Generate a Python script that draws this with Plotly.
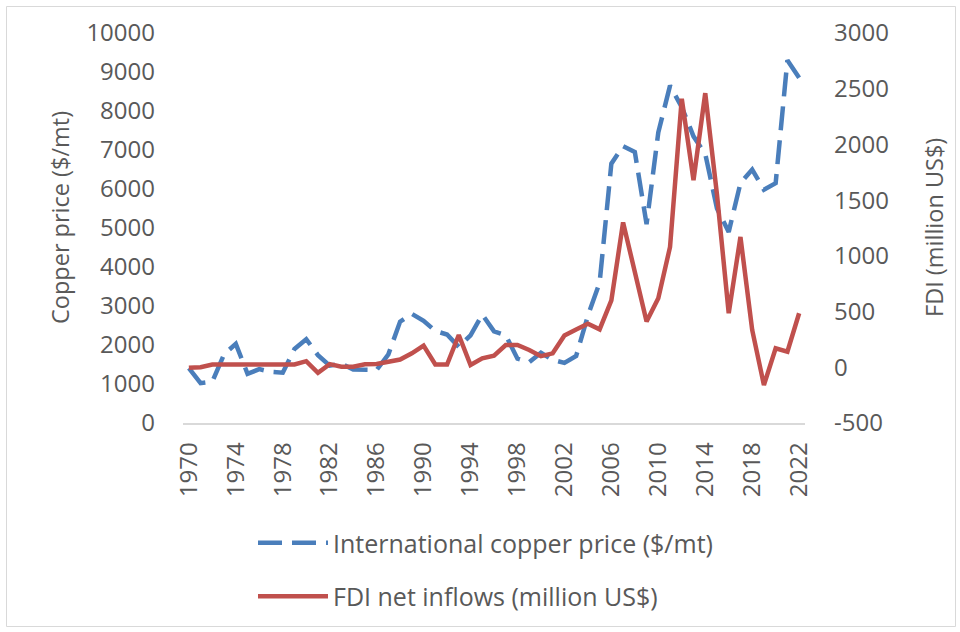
import plotly.graph_objects as go

# Years on the category axis
years = list(range(1970, 2023))

# International copper price, $/mt (left axis)
copper_price = [
    1410, 1020, 1060, 1760, 2030, 1260, 1380, 1310, 1290, 1900,
    2150, 1740, 1470, 1520, 1370, 1360, 1360, 1760, 2600, 2800,
    2620, 2360, 2270, 1950, 2250, 2780, 2350, 2250, 1650, 1560,
    1800, 1620, 1540, 1720, 2750, 3600, 6650, 7100, 6950, 5100,
    7450, 8650, 8100, 7350, 6900, 5500, 4900, 6150, 6500, 5980,
    6150, 9300, 8850,
]

# FDI net inflows, million US$ (right axis)
fdi_inflows = [
    -5, 0, 25, 25, 25, 25, 25, 25, 25, 25,
    55, -50, 28, 5, 5, 27, 30, 50, 70, 125,
    195, 25, 25, 290, 20, 80, 105, 200, 200, 155,
    100, 125, 285, 340, 390, 340, 600, 1300, 870, 410,
    620, 1080, 2410, 1680, 2460, 1550, 485, 1170, 335, -160,
    170, 140, 485,
]

tick_years = years[::4]
tick_labels = [str(y) for y in tick_years]

left_ticks = list(range(0, 10001, 1000))
left_labels = [str(v) for v in left_ticks]
right_ticks = list(range(-500, 3001, 500))
right_labels = [str(v) for v in right_ticks]

FONT = "Open Sans"
TEXT = "#595959"
FS_TICK = 24
FS_LEG = 25
FS_TITLE = 23.5

fig = go.Figure()

fig.add_trace(go.Scatter(
    x=years, y=copper_price, mode="lines",
    name="International copper price ($/mt)",
    line=dict(color="#4a7ebb", width=4.5, dash="24px,10px"),
    yaxis="y", legendgroup="a",
))
fig.add_trace(go.Scatter(
    x=years, y=fdi_inflows, mode="lines",
    name="FDI net inflows (million US$)",
    line=dict(color="#c0504d", width=4.5),
    yaxis="y2", legendgroup="b",
))

L, R, T, B = 183, 155, 33, 209
W, H = 960, 632
pw, ph = W - L - R, H - T - B


def px_x(px):
    return (px - L) / pw


def px_y(py):
    return (H - B - py) / ph


tick_font = dict(family=FONT, size=FS_TICK, color=TEXT)

fig.update_layout(
    width=W, height=H,
    margin=dict(l=L, r=R, t=T, b=B, pad=0, autoexpand=False),
    paper_bgcolor="white", plot_bgcolor="white",
    font=dict(family=FONT, size=FS_TICK, color=TEXT),
    xaxis=dict(
        range=[1969.5, 2022.5], tickmode="array",
        tickvals=tick_years, ticktext=tick_labels, tickangle=-90,
        showgrid=False, zeroline=False, showline=True,
        linecolor="#d9d9d9", linewidth=1.5, ticks="",
        ticklabelstandoff=8, tickfont=tick_font,
    ),
    yaxis=dict(
        range=[0, 10000], tickmode="array", tickvals=left_ticks,
        ticktext=left_labels,
        showgrid=False, zeroline=False, showline=False, ticks="",
        ticklabelstandoff=27, tickfont=tick_font,
    ),
    yaxis2=dict(
        range=[-500, 3000], tickmode="array", tickvals=right_ticks,
        ticktext=right_labels,
        overlaying="y", side="right",
        showgrid=False, zeroline=False, showline=False, ticks="",
        ticklabelstandoff=28, tickfont=tick_font,
    ),
    legend=dict(
        x=px_x(253), y=px_y(520), xanchor="left", yanchor="top",
        traceorder="grouped", tracegroupgap=18, itemwidth=70,
        font=dict(family=FONT, size=FS_LEG, color=TEXT),
        bgcolor="rgba(0,0,0,0)",
    ),
    annotations=[
        dict(text="Copper price ($/mt)", textangle=-90,
             xref="paper", yref="paper", x=px_x(60), y=px_y(218),
             showarrow=False, xanchor="center", yanchor="middle",
             font=dict(family=FONT, size=FS_TITLE, color=TEXT)),
        dict(text="FDI (million US$)", textangle=-90,
             xref="paper", yref="paper", x=px_x(934), y=px_y(228),
             showarrow=False, xanchor="center", yanchor="middle",
             font=dict(family=FONT, size=FS_TITLE, color=TEXT)),
    ],
    shapes=[
        dict(type="rect", xref="paper", yref="paper",
             x0=px_x(6.5), x1=px_x(955.5), y0=px_y(626.5), y1=px_y(6.5),
             line=dict(color="#d9d9d9", width=1), layer="below"),
    ],
)

fig.write_html("out.html")
